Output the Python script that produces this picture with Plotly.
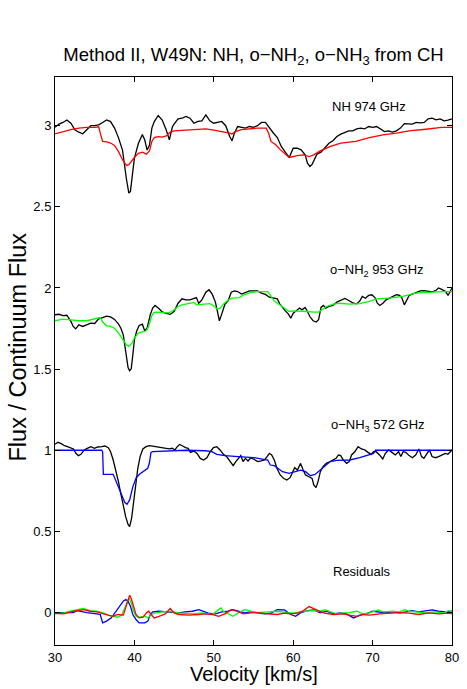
import plotly.graph_objects as go

# ---------------- data ----------------
# NH 974 GHz observed (black) and model (red)
nh_v = [30.0,30.5,31.0,31.5,32.0,32.5,33.0,33.5,34.0,34.5,35.0,35.5,36.0,36.5,37.0,37.5,38.0,38.5,39.0,39.3,39.5,39.8,40.0,40.5,41.0,41.3,41.6,41.9,42.2,42.5,43.0,43.5,44.0,44.4,44.8,45.0,45.5,46.0,46.5,47.0,47.5,48.0,48.5,49.0,49.5,50.0,50.5,51.0,51.5,52.0,52.3,52.6,53.0,53.5,54.0,54.5,55.0,55.5,56.0,56.5,57.0,57.5,58.0,58.5,59.0,59.5,60.0,60.5,61.0,61.5,61.8,62.1,62.4,62.7,63.0,63.5,64.0,64.5,65.0,65.5,66.0,66.5,67.0,67.5,68.0,68.5,69.0,69.5,70.0,70.5,71.0,71.5,72.0,72.5,73.0,73.5,74.0,74.5,75.0,75.5,76.0,76.5,77.0,77.5,78.0,78.5,79.0,79.5,80.0]
nh_obs = [2.99,3.01,3.02,3.035,3.015,2.975,2.96,2.95,2.975,3.0,3.0,3.005,3.02,3.035,3.025,2.985,2.925,2.85,2.67,2.585,2.595,2.72,2.80,2.89,2.945,2.913,2.85,2.88,2.985,3.025,3.063,3.035,2.975,2.913,2.995,3.01,3.042,3.046,3.057,3.046,3.015,3.026,3.03,3.067,3.03,3.015,3.02,3.026,3.0,2.933,2.907,2.954,2.995,2.99,2.985,2.995,2.99,3.0,3.02,3.02,2.985,2.955,2.927,2.872,2.837,2.804,2.861,2.861,2.851,2.82,2.769,2.749,2.763,2.80,2.825,2.837,2.866,2.892,2.907,2.933,2.948,2.96,2.968,2.968,2.98,2.985,2.98,2.995,2.99,2.995,2.978,2.964,2.968,2.96,2.968,2.985,3.013,3.013,3.01,3.02,3.017,3.02,3.042,3.046,3.036,3.042,3.03,3.034,3.042]
nh_mod_v = [30.0,31.0,32.0,33.0,34.0,35.0,35.5,35.7,36.0,36.5,37.0,37.5,38.0,38.5,39.0,39.3,39.6,40.0,40.5,41.0,41.5,41.9,42.2,42.5,43.0,43.5,44.0,44.5,45.0,46.0,47.0,48.0,49.0,50.0,51.0,51.5,52.0,52.3,52.7,53.5,54.5,55.5,56.6,56.9,57.2,57.8,58.4,59.0,59.5,60.5,61.3,62.0,62.6,63.4,64.7,66.0,67.9,69.6,71.3,73.0,74.6,76.7,78.7,80.0]
nh_mod = [2.95,2.965,2.976,2.985,2.99,2.99,2.993,2.954,2.903,2.90,2.893,2.878,2.84,2.79,2.755,2.76,2.78,2.804,2.83,2.837,2.825,2.845,2.903,2.927,2.933,2.93,2.937,2.96,2.968,2.972,2.976,2.978,2.98,2.972,2.964,2.96,2.954,2.948,2.964,2.976,2.982,2.985,2.985,2.954,2.903,2.882,2.851,2.824,2.804,2.816,2.82,2.81,2.82,2.845,2.872,2.892,2.903,2.927,2.944,2.954,2.968,2.978,2.989,2.99]

# o-NH2 953 GHz observed (black) and model (green)
nh2_v = [30.0,30.5,31.0,31.5,32.0,32.3,32.6,33.0,33.5,34.0,34.5,35.0,35.5,36.0,36.5,37.0,37.5,38.0,38.3,38.6,38.9,39.2,39.4,39.6,39.8,40.0,40.3,40.6,41.0,41.3,41.6,42.0,42.3,42.6,43.0,43.5,44.0,44.5,45.0,45.5,46.0,46.5,47.0,47.5,47.8,48.1,48.5,49.0,49.4,49.8,50.2,50.5,50.7,51.0,51.4,51.8,52.2,52.6,53.0,53.5,54.0,54.5,55.0,55.5,56.0,56.5,57.0,57.5,58.0,58.3,58.7,59.0,59.4,59.7,60.0,60.4,60.8,61.1,61.5,61.8,62.1,62.5,62.9,63.2,63.5,63.8,64.1,64.5,65.0,65.5,66.0,66.5,67.0,67.5,68.0,68.4,68.7,69.1,69.5,69.9,70.3,70.6,70.9,71.3,71.7,72.1,72.5,73.0,73.4,73.7,74.0,74.3,74.6,75.0,75.5,76.0,76.5,77.0,77.5,78.0,78.3,78.7,79.2,79.5,79.8,80.0]
nh2_obs = [1.835,1.838,1.83,1.832,1.794,1.763,1.748,1.773,1.763,1.773,1.783,1.781,1.81,1.818,1.826,1.822,1.806,1.777,1.752,1.711,1.62,1.51,1.49,1.502,1.588,1.68,1.736,1.769,1.777,1.736,1.752,1.835,1.876,1.892,1.876,1.853,1.843,1.837,1.855,1.906,1.933,1.927,1.927,1.933,1.941,1.906,1.927,1.974,1.989,1.962,1.913,1.845,1.798,1.839,1.90,1.921,1.974,1.982,1.978,1.962,1.974,1.982,1.982,1.982,1.968,1.96,1.943,1.939,1.933,1.902,1.876,1.859,1.839,1.814,1.845,1.863,1.876,1.865,1.88,1.855,1.824,1.798,1.79,1.804,1.88,1.892,1.876,1.886,1.892,1.913,1.923,1.935,1.923,1.908,1.902,1.921,1.948,1.937,1.954,1.958,1.941,1.906,1.892,1.906,1.927,1.937,1.95,1.958,1.954,1.937,1.896,1.927,1.954,1.962,1.972,1.982,1.984,1.978,1.976,1.986,2.0,1.991,1.978,1.954,1.987,2.0]
nh2_mod_v = [30.0,31.0,32.0,33.0,34.0,35.0,35.7,36.0,36.5,37.0,37.5,38.0,38.5,39.0,39.3,39.7,40.0,40.5,41.0,41.5,41.8,42.2,42.5,43.0,44.0,44.5,45.0,45.5,46.0,47.0,47.5,47.8,48.5,49.5,50.0,50.4,50.8,51.2,51.8,52.3,53.2,53.8,54.6,55.5,56.8,57.2,57.6,58.2,58.9,59.5,60.1,60.9,61.8,62.6,63.2,63.6,64.2,65.1,65.9,67.1,68.4,69.6,70.5,72.1,73.8,75.4,77.1,78.7,80.0]
nh2_mod = [1.798,1.808,1.804,1.798,1.798,1.81,1.818,1.79,1.767,1.763,1.752,1.722,1.687,1.65,1.64,1.66,1.691,1.722,1.73,1.736,1.763,1.83,1.849,1.851,1.847,1.849,1.865,1.886,1.896,1.904,1.911,1.896,1.90,1.904,1.89,1.87,1.876,1.90,1.925,1.937,1.941,1.958,1.972,1.978,1.978,1.948,1.921,1.90,1.876,1.855,1.859,1.859,1.855,1.851,1.851,1.865,1.886,1.90,1.906,1.90,1.904,1.917,1.933,1.937,1.948,1.968,1.974,1.978,1.978]

# o-NH3 572 GHz observed (black) and model (blue)
nh3_v = [30.0,30.37,30.79,31.2,31.57,31.99,32.32,32.61,32.94,33.27,33.68,34.06,34.51,34.97,35.38,35.88,36.29,36.71,37.0,37.33,37.66,37.99,38.28,38.57,38.9,39.19,39.4,39.65,39.9,40.15,40.43,40.72,41.06,41.47,41.88,42.3,42.71,43.13,43.54,43.95,44.37,44.78,45.1,45.4,45.69,46.03,46.44,46.77,47.06,47.47,47.89,48.3,48.72,49.13,49.55,49.96,50.37,50.79,51.2,51.61,52.03,52.44,52.77,53.15,53.4,53.68,53.98,54.31,54.64,54.97,55.13,55.55,55.96,56.38,56.71,57.0,57.29,57.62,57.95,58.36,58.78,59.19,59.61,59.9,60.19,60.52,60.93,61.26,61.55,61.97,62.38,62.59,62.88,63.13,63.42,63.75,64.16,64.66,65.07,65.4,65.69,65.98,66.31,66.73,67.06,67.35,67.76,68.18,68.59,69.01,69.42,69.83,70.12,70.45,70.87,71.28,71.61,72.03,72.44,72.86,73.27,73.56,73.85,74.18,74.6,75.01,75.42,75.84,76.17,76.46,76.87,77.16,77.49,77.91,78.32,78.74,79.15,79.48,79.77,80.0]
nh3_obs = [1.037,1.049,1.041,1.028,1.022,1.016,1.008,0.983,0.967,0.975,1.002,1.012,1.022,1.012,1.02,1.022,1.026,1.016,0.991,0.94,0.878,0.807,0.735,0.663,0.591,0.544,0.53,0.581,0.683,0.796,0.889,0.961,1.008,1.022,1.028,1.026,1.022,1.018,1.016,1.012,1.008,1.012,1.002,1.022,1.036,1.028,1.016,1.012,0.987,0.995,0.981,0.95,0.94,0.954,0.991,1.016,1.022,1.002,0.975,0.961,0.934,0.905,0.93,0.954,0.967,0.93,0.95,0.934,0.954,0.946,0.94,0.93,0.934,0.94,0.961,0.981,0.971,0.94,0.889,0.848,0.827,0.817,0.831,0.858,0.893,0.878,0.919,0.878,0.848,0.837,0.827,0.786,0.77,0.807,0.868,0.899,0.919,0.93,0.94,0.95,0.971,0.967,0.94,0.919,0.93,0.971,0.991,1.022,1.008,1.002,0.987,0.975,0.991,0.991,0.971,0.946,0.981,1.002,0.987,0.971,0.991,0.961,0.991,0.987,0.967,0.954,0.971,1.008,0.961,0.95,0.981,1.002,0.961,0.954,0.961,0.971,0.981,0.975,0.991,1.002]
nh3_mod_v = [30.0,33.0,35.88,36.0,36.09,37.33,37.54,37.95,38.36,38.78,39.07,39.4,39.81,40.23,40.64,41.06,41.68,41.88,42.09,42.3,44.37,46.44,48.92,49.75,50.37,51.41,53.06,55.0,56.79,57.12,57.62,58.03,58.65,59.48,60.1,60.93,61.55,62.17,62.79,63.42,64.04,64.66,65.49,67.14,68.38,69.63,70.12,70.37,80.0]
nh3_mod = [1.0,1.0,1.0,0.99,0.852,0.852,0.827,0.776,0.724,0.679,0.667,0.694,0.776,0.831,0.852,0.868,0.889,0.92,0.987,0.991,0.995,1.0,0.997,0.991,0.975,0.967,0.961,0.955,0.94,0.909,0.905,0.889,0.868,0.858,0.868,0.878,0.868,0.843,0.852,0.878,0.909,0.93,0.938,0.94,0.954,0.971,0.981,1.0,1.0]

# Residuals
res_nh3_v = [29.9,32.3,32.8,34.0,35.3,35.7,36.0,36.5,37.1,37.7,38.2,38.6,38.9,39.2,39.5,39.8,40.2,40.6,41.3,41.7,42.0,42.3,43.1,44.4,45.6,46.4,47.3,48.1,48.7,49.3,50.2,51.0,51.8,52.4,53.1,53.9,54.7,55.5,56.4,57.2,58.0,58.9,59.7,60.3,60.9,61.8,62.6,63.4,64.2,65.1,65.9,66.7,67.6,68.4,69.2,70.0,70.9,71.7,72.5,73.4,74.2,75.0,75.8,76.7,77.5,78.3,79.2,80.0]
res_nh3 = [0.0,0.0,0.012,0.0,-0.008,-0.012,-0.064,-0.053,-0.033,0.008,0.039,0.07,0.08,0.07,0.039,-0.012,-0.043,-0.064,-0.064,-0.053,-0.012,0.004,0.008,0.004,-0.002,0.004,0.008,0.018,0.008,-0.004,-0.008,0.004,0.008,0.018,0.008,-0.002,0.004,-0.002,-0.008,-0.004,0.018,0.016,-0.012,-0.023,-0.002,0.012,0.016,-0.002,0.008,-0.008,-0.002,-0.008,-0.033,-0.016,-0.008,0.008,0.004,-0.002,0.004,-0.002,0.004,0.012,0.004,0.008,0.016,0.008,0.004,0.008]
res_nh2_v = [29.9,31.1,31.9,32.8,33.6,34.4,35.3,36.1,36.7,37.3,37.9,38.4,38.8,39.1,39.3,39.6,39.9,40.2,40.6,41.3,41.7,42.1,42.7,43.5,44.4,45.6,47.3,48.5,49.8,50.6,50.9,51.2,51.8,52.4,53.1,53.9,54.7,55.5,56.8,58.0,59.3,60.1,61.3,62.6,63.4,64.0,64.7,65.5,66.3,67.1,68.0,68.8,69.6,70.7,71.3,72.5,73.4,74.0,74.6,75.4,76.7,77.9,78.9,79.6,80.0]
res_nh2 = [-0.008,-0.002,0.008,0.018,0.025,0.012,0.008,-0.002,-0.016,-0.023,-0.029,-0.016,0.029,0.07,0.09,0.06,0.008,-0.023,-0.029,-0.023,-0.033,-0.012,-0.002,0.004,0.008,-0.002,-0.008,-0.002,-0.012,0.018,0.029,0.008,-0.008,-0.023,-0.002,0.018,0.008,0.0,0.004,0.008,0.0,-0.004,0.008,0.012,0.008,0.018,0.004,-0.008,-0.002,0.0,0.008,-0.008,-0.002,0.016,0.004,0.008,0.004,0.018,0.008,0.004,-0.002,0.004,-0.002,0.012,0.004]
res_nh_v = [29.9,31.1,32.4,33.6,34.4,35.3,36.1,36.7,37.3,37.9,38.6,38.9,39.2,39.4,39.6,39.9,40.2,40.6,41.1,41.5,41.8,42.1,42.5,43.1,43.9,44.5,45.0,45.6,46.9,48.1,48.9,49.8,50.6,51.4,52.2,52.9,53.7,54.7,55.5,56.8,58.0,58.9,59.7,60.7,61.3,62.0,62.6,63.2,63.8,65.1,66.3,67.1,68.0,68.8,69.6,70.9,72.1,73.4,74.6,75.8,77.1,78.3,79.6,80.0]
res_nh = [-0.004,-0.008,0.008,0.018,0.008,0.004,-0.008,-0.016,-0.023,-0.012,-0.016,0.029,0.08,0.107,0.086,0.039,-0.012,-0.033,-0.029,-0.002,0.008,-0.012,-0.033,-0.023,-0.008,0.025,-0.002,-0.012,-0.016,-0.012,-0.008,-0.012,-0.023,-0.008,0.018,0.008,-0.008,-0.002,0.0,-0.008,-0.012,-0.004,-0.008,-0.002,0.012,0.037,0.025,0.008,-0.002,-0.012,-0.008,-0.016,-0.023,-0.012,-0.016,-0.008,-0.004,0.0,-0.004,-0.012,-0.002,-0.008,-0.004,-0.008]

x_ticks = [30, 40, 50, 60, 70, 80]
y_ticks = [0, 0.5, 1, 1.5, 2, 2.5, 3]
y_ticktext = ["0", "0.5", "1", "1.5", "2", "2.5", "3"]

labels = ["NH 974 GHz", "o\u2212NH<sub>2</sub> 953 GHz", "o\u2212NH<sub>3</sub> 572 GHz", "Residuals"]
label_v = [64.6, 64.4, 64.5, 64.7]
label_y = [3.12, 2.11, 1.15, 0.25]

# ---------------- figure ----------------
FONT = "Liberation Sans, Arial, Helvetica, sans-serif"
W, H = 467, 689
fig = go.Figure()

def add(x, y, color, w=1.3):
    fig.add_trace(go.Scatter(x=x, y=y, mode="lines", line=dict(color=color, width=w),
                             showlegend=False, hoverinfo="skip"))

add(nh_v, nh_obs, "black")
add(nh_mod_v, nh_mod, "#ff0000")
add(nh2_v, nh2_obs, "black")
add(nh2_mod_v, nh2_mod, "#00ff00")
add(nh3_v, nh3_obs, "black")
add(nh3_mod_v, nh3_mod, "#0000ff")
add(res_nh3_v, res_nh3, "#0000ff")
add(res_nh2_v, res_nh2, "#00ff00")
add(res_nh_v, res_nh, "#ff0000")

for t, xv, yv in zip(labels, label_v, label_y):
    fig.add_annotation(x=xv, y=yv, text=t, showarrow=False, xanchor="left", yanchor="middle",
                       font=dict(family=FONT, size=13, color="black"))

# axis titles
fig.add_annotation(x=0.5, y=-0.051, xref="paper", yref="paper", text="Velocity [km/s]",
                   showarrow=False, xanchor="center", yanchor="middle",
                   font=dict(family=FONT, size=20, color="black"))
fig.add_annotation(x=-0.094, y=0.525, xref="paper", yref="paper", text="Flux / Continuum Flux",
                   showarrow=False, xanchor="center", yanchor="middle", textangle=-90,
                   font=dict(family=FONT, size=23.5, color="black"))

fig.update_layout(
    width=W, height=H,
    margin=dict(l=55, r=8, t=77, b=44),
    paper_bgcolor="white", plot_bgcolor="white",
    font=dict(family=FONT, size=13, color="black"),
    title=dict(text="Method II, W49N: NH, o\u2212NH<sub>2</sub>, o\u2212NH<sub>3</sub> from CH",
               x=0.5, xref="paper", xanchor="center", y=1 - 55 / H, yref="container",
               yanchor="middle", font=dict(family=FONT, size=18.5)),
    xaxis=dict(range=[30, 80], tickvals=x_ticks, ticks="inside", ticklen=5, tickwidth=1,
               tickcolor="black", showline=True, linecolor="black", linewidth=1, mirror="ticks",
               showgrid=False, zeroline=False, tickfont=dict(size=13)),
    yaxis=dict(range=[-0.2, 3.3], tickvals=y_ticks, ticktext=y_ticktext, ticks="inside", ticklen=5,
               tickwidth=1, tickcolor="black", showline=True, linecolor="black", linewidth=1,
               mirror="ticks", showgrid=False, zeroline=False, tickfont=dict(size=13)),
)

# remove the browser's default 8 px body margin so the figure sits at the page origin
fig.write_html("out.html",
               config={"displayModeBar": False},
               post_script="document.body.style.margin='0px';"
                           "document.documentElement.style.overflow='hidden';")
